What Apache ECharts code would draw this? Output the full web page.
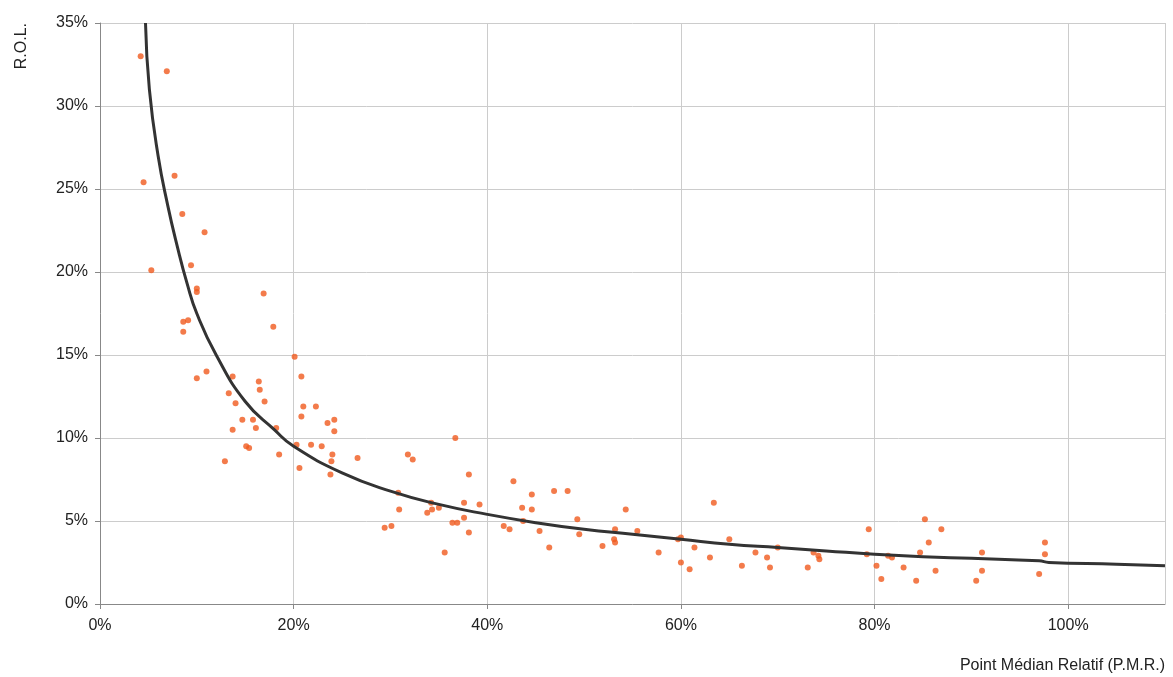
<!DOCTYPE html>
<html><head><meta charset="utf-8">
<script src="https://cdn.jsdelivr.net/npm/echarts@6/dist/echarts.min.js"></script>
<style>html,body{margin:0;padding:0;background:#fff}#c{width:1173px;height:677px}</style>
</head><body><div id="c"></div>
<script>
// observed points: [P.M.R. %, R.O.L. %]
var points = [
[4.2,33.0],[6.9,32.1],[4.5,25.4],[7.7,25.8],[5.3,20.1],[8.5,23.5],[10.8,22.4],[9.4,20.4],[10.0,19.0],[10.0,18.8],
[8.6,17.0],[9.1,17.1],[8.6,16.4],[16.9,18.7],[17.9,16.7],[10.0,13.6],[11.0,14.0],[13.7,13.7],[16.4,13.4],[16.5,12.9],
[13.3,12.7],[14.0,12.1],[17.0,12.2],[20.1,14.9],[20.8,13.7],[14.7,11.1],[15.8,11.1],[16.1,10.6],[13.7,10.5],[18.2,10.6],
[15.1,9.5],[15.4,9.4],[12.9,8.6],[18.5,9.0],[20.3,9.6],[21.0,11.9],[20.8,11.3],[22.3,11.9],[24.2,11.1],[24.2,10.4],
[23.5,10.9],[21.8,9.6],[22.9,9.5],[20.6,8.2],[24.0,9.0],[23.9,8.6],[23.8,7.8],[26.6,8.8],[30.8,6.7],[30.9,5.7],
[29.4,4.6],[30.1,4.7],[31.8,9.0],[32.3,8.7],[36.7,10.0],[38.1,7.8],[34.2,6.1],[33.8,5.5],[35.0,5.8],[34.3,5.7],
[37.6,6.1],[37.6,5.2],[39.2,6.0],[36.4,4.9],[36.9,4.9],[38.1,4.3],[35.6,3.1],[42.7,7.4],[44.6,6.6],[48.3,6.8],
[46.9,6.8],[43.6,5.8],[44.6,5.7],[41.7,4.7],[42.3,4.5],[43.7,5.0],[45.4,4.4],[46.4,3.4],[49.3,5.1],[49.5,4.2],
[54.3,5.7],[53.2,4.5],[55.5,4.4],[53.1,3.9],[53.2,3.7],[51.9,3.5],[57.7,3.1],[63.4,6.1],[60.0,4.0],[59.7,3.9],
[61.4,3.4],[63.0,2.8],[60.0,2.5],[60.9,2.1],[65.0,3.9],[67.7,3.1],[68.9,2.8],[70.0,3.4],[66.3,2.3],[69.2,2.2],
[73.1,2.2],[73.7,3.1],[74.2,2.9],[74.3,2.7],[79.4,4.5],[79.2,3.0],[80.2,2.3],[80.7,1.5],[81.4,2.9],[81.8,2.8],
[83.0,2.2],[84.3,1.4],[85.2,5.1],[85.6,3.7],[86.9,4.5],[84.7,3.1],[86.3,2.0],[90.5,1.4],[91.1,3.1],[91.1,2.0],
[97.6,3.7],[97.6,3.0],[97.0,1.8]
];
// fitted trend curve
var trend = [
[4.7,35],[5.1,31],[6,27],[7,24],[8,21.5],[9,19.3],[10,17.5],[12,15],[15,12.2],[18,10.5],[20,9.5],[25,7.9],
[30,6.8],[35,6],[40,5.4],[45,4.9],[50,4.5],[55,4.2],[60,3.9],[65,3.6],[70,3.4],[75,3.2],[80,3.0],
[85,2.85],[90,2.75],[97,2.6],[98,2.5],[105,2.4],[110,2.3]
];
var chart = echarts.init(document.getElementById('c'));
var font = 'Liberation Sans, Arial, sans-serif';
chart.setOption({
  animation: false,
  grid: {left: 100, right: 8, top: 23, bottom: 73, outerBoundsMode: 'none'},
  xAxis: {
    type: 'value', min: 0, max: 110, interval: 20,
    name: 'Point Médian Relatif (P.M.R.)', nameLocation: 'end', nameGap: 0,
    nameTextStyle: {fontFamily: font, fontSize: 16, color: '#222', align: 'right', verticalAlign: 'top', padding: [54, 0, 0, 0]},
    axisLabel: {formatter: '{value}%', fontFamily: font, fontSize: 16, color: '#222', margin: 14, showMaxLabel: false},
    axisLine: {lineStyle: {color: '#888'}},
    axisTick: {show: true, lineStyle: {color: '#888'}},
    splitLine: {lineStyle: {color: '#ccc'}}
  },
  yAxis: {
    type: 'value', min: 0, max: 35, interval: 5,
    name: 'R.O.L.', nameLocation: 'end', nameRotate: 90, nameGap: 0,
    nameTextStyle: {fontFamily: font, fontSize: 16, color: '#222', align: 'right', verticalAlign: 'bottom', padding: [0, 0, 70, 0]},
    axisLabel: {formatter: '{value}%', fontFamily: font, fontSize: 16, color: '#222', margin: 12},
    axisLine: {show: true, lineStyle: {color: '#888'}},
    axisTick: {show: true, lineStyle: {color: '#888'}},
    splitLine: {lineStyle: {color: '#ccc'}}
  },
  series: [
    {type: 'scatter', data: points, symbolSize: 6, itemStyle: {color: '#f05a1e'}},
    {type: 'line', data: trend, smooth: true, symbol: 'none', lineStyle: {color: '#333', width: 3}}
  ]
});
</script></body></html>
